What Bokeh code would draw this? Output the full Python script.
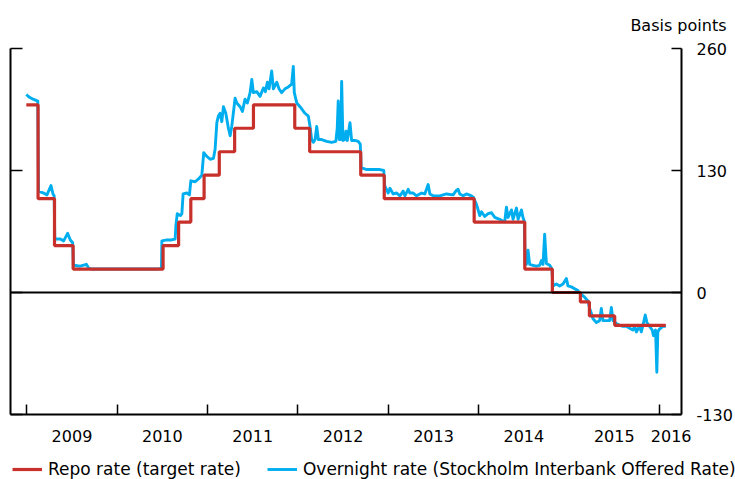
from bokeh.plotting import figure
from bokeh.layouts import column, row
from bokeh.models import (LinearAxis, FixedTicker, Range1d, Span, Legend, LegendItem)
from bokeh.embed import file_html
from bokeh.resources import INLINE

# Repo rate (target rate), basis points; step changes (decimal years)
repo_year = [2008.995, 2009.125, 2009.307, 2009.513, 2010.508, 2010.68, 2010.815, 2010.962,
             2011.13, 2011.30, 2011.508, 2011.965, 2012.13, 2012.695, 2012.955, 2013.95,
             2014.51, 2014.815, 2015.125, 2015.225, 2015.505, 2016.07]
repo_bp = [200, 100, 50, 25, 50, 75, 100, 125,
           150, 175, 200, 175, 150, 125, 100, 75,
           25, 0, -10, -25, -35, -35]

# Overnight rate (STIBOR), basis points
ov_year = [
    2008.995, 2009.03, 2009.07, 2009.122,
    2009.13, 2009.186, 2009.224, 2009.268, 2009.29, 2009.303,
    2009.31, 2009.371, 2009.408, 2009.452, 2009.482, 2009.508,
    2009.516, 2009.592, 2009.659, 2009.684, 2009.72, 2010.45, 2010.49,
    2010.495, 2010.55, 2010.60, 2010.642, 2010.65, 2010.665, 2010.70, 2010.716,
    2010.73, 2010.771, 2010.80,
    2010.815, 2010.863, 2010.90, 2010.937, 2010.958, 2010.992, 2011.029, 2011.066,
    2011.084, 2011.103, 2011.12, 2011.139, 2011.158, 2011.176, 2011.202, 2011.231,
    2011.25, 2011.268, 2011.305, 2011.324, 2011.36, 2011.386, 2011.415, 2011.441,
    2011.471, 2011.49, 2011.507, 2011.545, 2011.581, 2011.618, 2011.64, 2011.662,
    2011.681, 2011.71, 2011.728, 2011.766, 2011.791, 2011.82, 2011.857, 2011.894,
    2011.931, 2011.949, 2011.96, 2011.987, 2012.023, 2012.078, 2012.115, 2012.134,
    2012.152, 2012.17, 2012.19, 2012.208, 2012.226, 2012.263, 2012.318, 2012.373,
    2012.42, 2012.435, 2012.446, 2012.457, 2012.473, 2012.484, 2012.498, 2012.52,
    2012.531, 2012.546, 2012.576, 2012.594, 2012.631, 2012.667, 2012.69,
    2012.70, 2012.76, 2012.833, 2012.907, 2012.95,
    2012.96, 2012.999, 2013.018, 2013.054, 2013.092, 2013.128, 2013.165, 2013.184,
    2013.22, 2013.239, 2013.275, 2013.313, 2013.368, 2013.404, 2013.441, 2013.46,
    2013.496, 2013.57, 2013.644, 2013.717, 2013.755, 2013.772, 2013.791, 2013.828,
    2013.865, 2013.92, 2013.945,
    2013.957, 2013.976, 2014.012, 2014.031, 2014.067, 2014.104, 2014.142, 2014.178,
    2014.233, 2014.27, 2014.289, 2014.307, 2014.325, 2014.363, 2014.38, 2014.418,
    2014.436, 2014.473, 2014.49, 2014.505,
    2014.515, 2014.528, 2014.546, 2014.564, 2014.601, 2014.638, 2014.675, 2014.694,
    2014.712, 2014.73, 2014.749, 2014.786, 2014.81,
    2014.822, 2014.86, 2014.896, 2014.933, 2014.97, 2014.988, 2015.025, 2015.062,
    2015.099, 2015.12,
    2015.172, 2015.209,
    2015.228, 2015.246, 2015.265, 2015.302, 2015.338, 2015.357, 2015.375, 2015.412,
    2015.449, 2015.468, 2015.486,
    2015.523, 2015.559, 2015.596, 2015.633, 2015.67, 2015.706, 2015.725, 2015.744,
    2015.78, 2015.799, 2015.817, 2015.843, 2015.861, 2015.891, 2015.92, 2015.934,
    2015.957, 2015.971, 2015.982, 2016.0, 2016.037, 2016.07]
ov_bp = [
    211, 208, 206, 204,
    108, 106, 104, 114, 105, 103,
    57, 57, 55, 63, 56, 53,
    29, 28, 30, 26, 25, 25, 26,
    55, 56, 56, 57, 71, 84, 82, 84,
    105, 106, 104,
    119, 118, 121, 125, 149, 145, 142, 143,
    153, 181, 188, 191, 182, 198, 191, 175,
    167, 177, 207, 202, 198, 193, 206, 202,
    213, 227, 213, 214, 209, 218, 214, 224,
    217, 236, 217, 224, 217, 213, 217, 219,
    222, 241, 213, 202, 198, 191, 188, 177,
    163, 160, 163, 177, 163, 163, 161, 160,
    161, 175, 204, 163, 163, 225, 162, 163,
    172, 162, 181, 162, 162, 161, 158,
    133, 131, 131, 131, 130,
    114, 106, 111, 105, 106, 103, 108, 103,
    110, 106, 106, 103, 106, 105, 115, 105,
    103, 103, 105, 104, 109, 110, 105, 103,
    105, 103, 101,
    98, 94, 82, 86, 81, 84, 85, 80,
    78, 76, 76, 91, 80, 88, 78, 90,
    78, 88, 80, 76,
    30, 30, 45, 30, 29, 28, 29, 34,
    30, 62, 31, 29, 25,
    7, 9, 7, 9, 15, 7, 6, 4,
    2, -1,
    -5, -9,
    -17, -22, -28, -32, -30, -17, -30, -30,
    -30, -16, -30,
    -33, -35, -36, -36, -38, -40, -36, -42,
    -36, -42, -35, -24, -32, -36, -40, -46,
    -40, -85, -42, -39, -36, -36]

year_ticks = [2009, 2010, 2011, 2012, 2013, 2014, 2015, 2016]
year_label_pos = [2009.5, 2010.5, 2011.5, 2012.5, 2013.5, 2014.5, 2015.5, 2016.13]
year_labels = ["2009", "2010", "2011", "2012", "2013", "2014", "2015", "2016"]
y_ticks = [-130, 0, 130, 260]
y_labels = ["-130", "0", "130", "260"]
series_names = ["Repo rate (target rate)", "Overnight rate (Stockholm Interbank Offered Rate)"]

RED = "#C8302B"
BLUE = "#00AEEF"
FONT = "DejaVu Sans"
RED_W = 3.2
BLUE_W = 2.9

p = figure(width=735, height=455, output_backend="svg", toolbar_location=None,
           x_range=Range1d(2008.82, 2016.244), y_range=Range1d(-130, 260),
           min_border_left=10, min_border_right=53, min_border_top=47, min_border_bottom=41)
p.outline_line_color = None
p.xgrid.visible = False
p.ygrid.visible = False
p.background_fill_color = "white"
p.border_fill_color = "white"

# bottom axis: labels mid-year (major, no tick mark), tick marks at year boundaries (minor)
xa = p.xaxis[0]
xa.ticker = FixedTicker(ticks=year_label_pos, minor_ticks=year_ticks)
xa.major_label_overrides = dict(zip(year_label_pos, year_labels))
xa.major_tick_line_color = None
xa.major_tick_in = 0
xa.major_tick_out = 0
xa.minor_tick_in = 10
xa.minor_tick_out = 0
xa.minor_tick_line_color = "black"
xa.minor_tick_line_width = 1.5
xa.axis_line_width = 2
xa.axis_line_color = "black"
xa.major_label_standoff = 15
xa.major_label_text_font = FONT
xa.major_label_text_font_size = "16px"
xa.major_label_text_color = "black"

# left axis: tick marks only
ya = p.yaxis[0]
ya.ticker = FixedTicker(ticks=[], minor_ticks=y_ticks)
ya.major_tick_line_color = None
ya.minor_tick_in = 12
ya.minor_tick_out = 0
ya.minor_tick_line_color = "black"
ya.minor_tick_line_width = 1.5
ya.axis_line_width = 2
ya.axis_line_color = "black"
ya.major_label_standoff = 0

# right axis with labels
ra = LinearAxis(ticker=FixedTicker(ticks=y_ticks),
                major_label_overrides=dict(zip(y_ticks, y_labels)))
ra.major_tick_in = 10
ra.major_tick_out = 0
ra.minor_tick_line_color = None
ra.axis_line_width = 2
ra.major_tick_line_width = 1.5
ra.major_label_standoff = 15
ra.major_label_text_font = FONT
ra.major_label_text_font_size = "16px"
ra.major_label_text_color = "black"
p.add_layout(ra, "right")

p.add_layout(Span(location=0, dimension="width", line_color="black", line_width=1.8))

p.line(ov_year, ov_bp, line_color=BLUE, line_width=BLUE_W, line_join="round")
p.step(repo_year, repo_bp, mode="after", line_color=RED, line_width=RED_W)

p.title.text = "Basis points"
p.title.align = "right"
p.title.offset = -45
p.title.standoff = 27
p.title.text_font = FONT
p.title.text_font_size = "16px"
p.title.text_font_style = "normal"
p.title.text_color = "black"

# legend strip below the chart (series drawn outside its visible range; only the legend shows)
pl = figure(width=735, height=24, output_backend="svg", toolbar_location=None,
            x_range=Range1d(0, 1), y_range=Range1d(0, 1),
            x_axis_location=None, y_axis_location=None,
            min_border=0, min_border_left=0, min_border_right=0,
            min_border_top=0, min_border_bottom=0)
pl.outline_line_color = None
pl.xgrid.visible = False
pl.ygrid.visible = False
r1 = pl.step(repo_year, repo_bp, mode="after", line_color=RED, line_width=RED_W)
r2 = pl.line(ov_year, ov_bp, line_color=BLUE, line_width=BLUE_W)
legend = Legend(items=[LegendItem(label=series_names[0], renderers=[r1]),
                       LegendItem(label=series_names[1], renderers=[r2])],
                orientation="horizontal", location=(12, 0))
legend.border_line_color = None
legend.background_fill_alpha = 0
legend.padding = 0
legend.margin = 0
legend.spacing = 26
legend.glyph_width = 30
legend.glyph_height = 18
legend.label_standoff = 6
legend.label_height = 18
legend.label_text_font = FONT
legend.label_text_font_size = "17px"
legend.label_text_color = "black"
pl.add_layout(legend, "center")

open("out.html", "w").write(file_html(column(p, row(pl), spacing=0), INLINE))
